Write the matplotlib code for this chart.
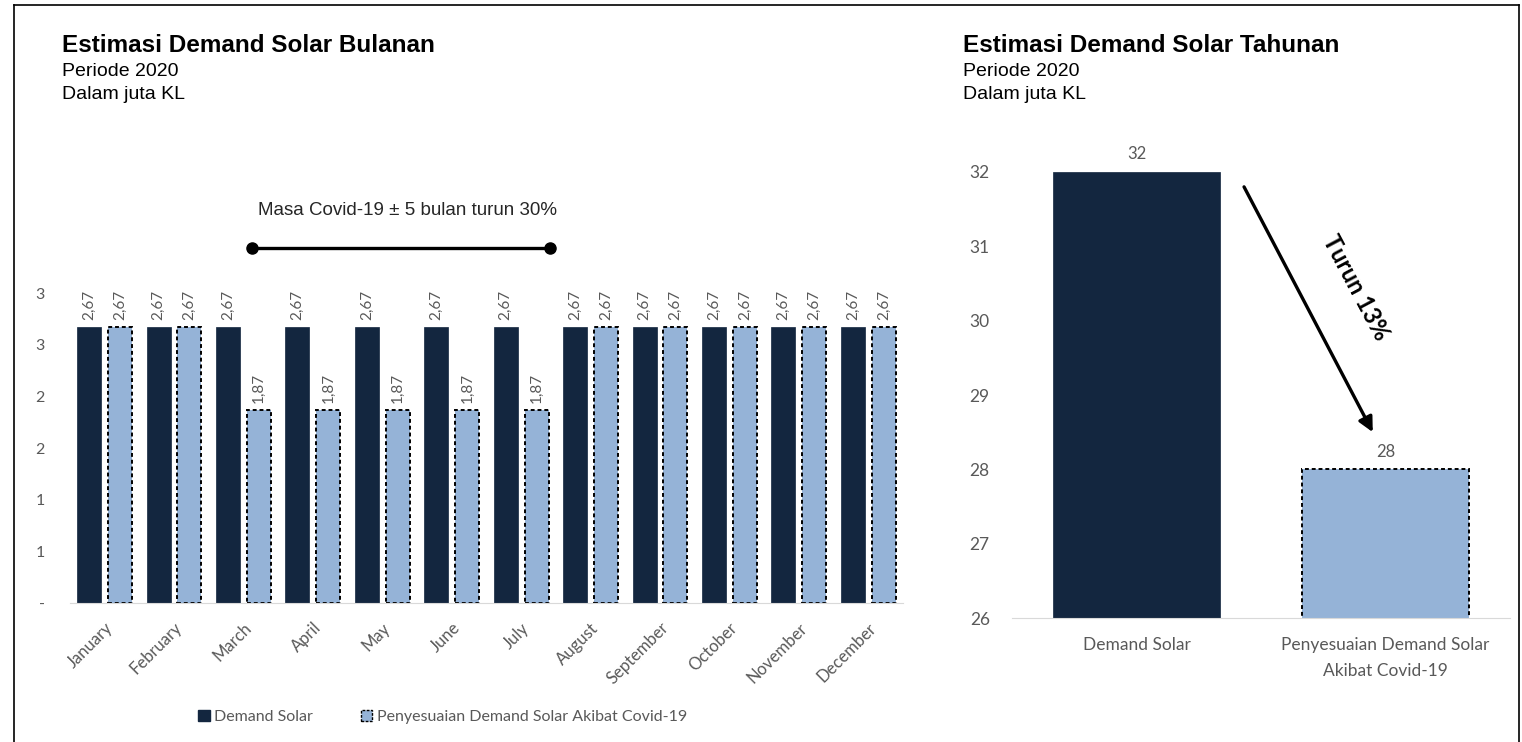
"""Estimasi demand solar bulanan & tahunan 2020 (bar charts, Excel style)."""

import math

import matplotlib

matplotlib.use("Agg")

import matplotlib.pyplot as plt  # noqa: E402
from matplotlib.lines import Line2D  # noqa: E402
from matplotlib.patches import Patch  # noqa: E402

# --- data -------------------------------------------------------------------
months = [
    "January", "February", "March", "April", "May", "June",
    "July", "August", "September", "October", "November", "December",
]
demand_monthly = [2.67] * 12
adjusted_monthly = [2.67, 2.67, 1.87, 1.87, 1.87, 1.87, 1.87,
                    2.67, 2.67, 2.67, 2.67, 2.67]
left_yticks = [0, 0.5, 1.0, 1.5, 2.0, 2.5, 3.0]

yearly_labels = ["Demand Solar", "Penyesuaian Demand Solar\nAkibat Covid-19"]
yearly_values = [32, 28]
right_yticks = [26, 27, 28, 29, 30, 31, 32]

DARK = "#13263f"
LIGHT = "#95b3d7"
GRAY = "#595959"
AXIS = "#d9d9d9"
TITLE_FONT = ["Liberation Sans", "DejaVu Sans"]
BODY_FONT = ["Lato", "DejaVu Sans"]


def _excel_int(v, _pos=None):
    if abs(v) < 1e-9:
        return "-"
    return str(int(math.floor(v + 0.5)))


def _style(ax):
    for side in ("top", "right", "left"):
        ax.spines[side].set_visible(False)
    ax.spines["bottom"].set_color(AXIS)
    ax.tick_params(axis="both", length=0, colors=GRAY)


fig = plt.figure(figsize=(15.22, 7.42), dpi=100, facecolor="white")

# outer frame
for xs, ys in (([0.0092, 0.0092], [-0.01, 0.9933]),
               ([0.0092, 0.998], [0.9933, 0.9933]),
               ([0.998, 0.998], [-0.01, 0.9933])):
    fig.add_artist(Line2D(xs, ys, color="black", linewidth=1.2,
                          transform=fig.transFigure))

# --- monthly chart ------------------------------------------------------------
ax1 = fig.add_axes([0.0459, 0.1873, 0.5474, 0.4178])
_style(ax1)
x = list(range(len(months)))
w = 0.346
off = 0.223
ax1.bar([i - off for i in x], demand_monthly, width=w, color=DARK,
        edgecolor=DARK, linewidth=0.5)
ax1.bar([i + off for i in x], adjusted_monthly, width=w, color=LIGHT,
        edgecolor="black", linewidth=1.4, linestyle=(0, (2, 1.5)))
for i in x:
    for xi, v in ((i - off, demand_monthly[i]), (i + off, adjusted_monthly[i])):
        ax1.text(xi, v + 0.07, f"{v:.2f}".replace(".", ","), rotation=90,
                 ha="center", va="bottom", fontsize=11, color=GRAY,
                 family=BODY_FONT, clip_on=False)
ax1.set_xlim(-0.5, 11.5)
ax1.set_ylim(0, 3.0)
ax1.set_yticks(left_yticks)
ax1.yaxis.set_major_formatter(plt.FuncFormatter(_excel_int))
ax1.set_xticks(x)
ax1.set_xticklabels(months, rotation=45, ha="right", rotation_mode="anchor",
                    fontsize=12, family=BODY_FONT)
for lbl in ax1.get_yticklabels():
    lbl.set_family(BODY_FONT)
    lbl.set_fontsize(11.5)
ax1.tick_params(axis="y", pad=18)
ax1.tick_params(axis="x", pad=12)

# covid period marker
ax1.plot([2.125, 6.42], [3.44, 3.44], color="black", linewidth=2.4,
         marker="o", markersize=8, clip_on=False)
ax1.text(4.37, 3.80, "Masa Covid-19 ± 5 bulan turun 30%", ha="center",
         va="center", fontsize=13.5, color="#262626", family=TITLE_FONT,
         clip_on=False)

fig.legend(
    handles=[
        Patch(facecolor=DARK, edgecolor=DARK, label="Demand Solar"),
        Patch(facecolor=LIGHT, edgecolor="black", linestyle=(0, (2, 1)),
              label="Penyesuaian Demand Solar Akibat Covid-19"),
    ],
    loc="center", bbox_to_anchor=(0.291, 0.034), ncol=2, frameon=False,
    handlelength=0.7, handleheight=0.7, handletextpad=0.3, columnspacing=3.0,
    prop={"family": BODY_FONT, "size": 11.5}, labelcolor=GRAY,
)

# --- yearly chart -------------------------------------------------------------
ax2 = fig.add_axes([0.6649, 0.1671, 0.3272, 0.6011])
_style(ax2)
ax2.bar([0], [yearly_values[0]], width=0.668, color=DARK, edgecolor=DARK,
        linewidth=0.5)
ax2.bar([1], [yearly_values[1]], width=0.668, color=LIGHT, edgecolor="black",
        linewidth=1.4, linestyle=(0, (2, 1.5)))
for i, v in enumerate(yearly_values):
    ax2.text(i, v + 0.13, str(v), ha="center", va="bottom", fontsize=12,
             color=GRAY, family=BODY_FONT, clip_on=False)
ax2.set_xlim(-0.5, 1.5)
ax2.set_ylim(26, 32)
ax2.set_yticks(right_yticks)
ax2.set_xticks([0, 1])
ax2.set_xticklabels(yearly_labels, fontsize=12.5, family=BODY_FONT,
                    linespacing=1.75)
for lbl in ax2.get_yticklabels():
    lbl.set_family(BODY_FONT)
    lbl.set_fontsize(12.5)
ax2.tick_params(axis="y", pad=16)
ax2.tick_params(axis="x", pad=14)

ax2.annotate("", xy=(0.949, 28.50), xytext=(0.432, 31.80),
             arrowprops=dict(arrowstyle="-|>", color="black", linewidth=2.4,
                             mutation_scale=22, shrinkA=0, shrinkB=0))
ax2.text(0.88, 30.45, "Turun 13%", rotation=-62, ha="center", va="center",
         fontsize=17, fontweight="bold", color="black", family=BODY_FONT,
         rotation_mode="anchor")

# --- titles -----------------------------------------------------------------
for fx, title in ((0.0407, "Estimasi Demand Solar Bulanan"),
                  (0.6327, "Estimasi Demand Solar Tahunan")):
    fig.text(fx, 0.939, title, fontsize=17.5, fontweight="bold",
             family=TITLE_FONT, color="black", va="center")
    fig.text(fx, 0.903, "Periode 2020", fontsize=14, family=TITLE_FONT,
             color="black", va="center")
    fig.text(fx, 0.872, "Dalam juta KL", fontsize=14, family=TITLE_FONT,
             color="black", va="center")

fig.savefig("out.png", dpi=100, facecolor="white")
plt.close(fig)
